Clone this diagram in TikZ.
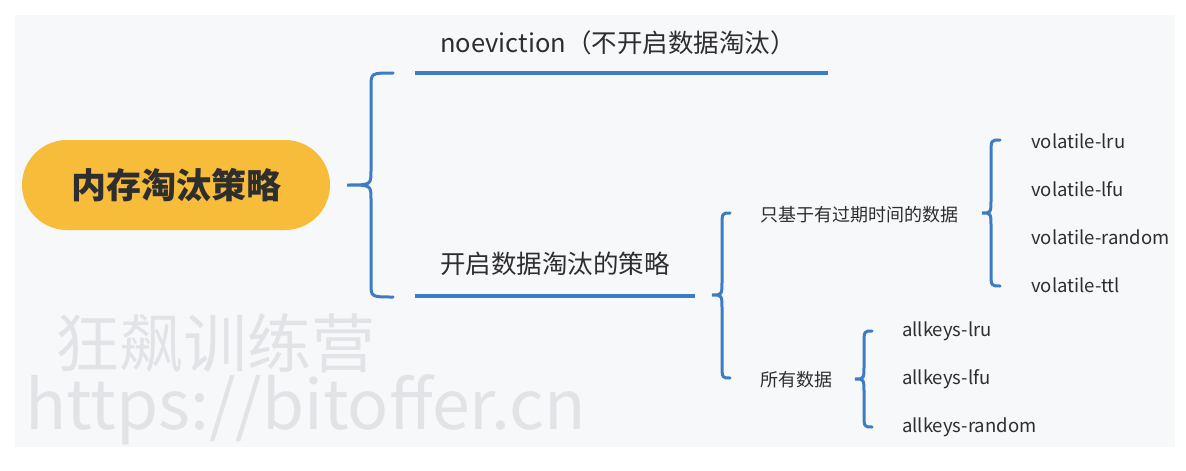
\documentclass[tikz,border=0pt]{standalone}
\usepackage{fontspec}
\setmainfont{Noto Sans CJK SC}
\definecolor{bluebr}{HTML}{3D7CC4}
\definecolor{pill}{HTML}{F7BD3A}
\definecolor{panel}{HTML}{F7F8FA}
\definecolor{wm}{HTML}{E2E3E7}
\definecolor{txt}{HTML}{2E2E2E}
\tikzset{
  brace/.style={draw=bluebr, line width=3pt, line cap=round},
  uline/.style={draw=bluebr, line width=4pt},
  lbl/.style={anchor=west, inner sep=0pt, text=txt},
  leaf/.style={lbl, font=\fontsize{18.5}{20}\selectfont},
  mid/.style={lbl, font=\fontsize{18}{20}\selectfont},
}
\newcommand{\mybrace}[6]{% xe, yt, yb, xv, xt, ym
  \draw[brace] (#1,#2) .. controls (#4,#2) .. (#4,#2+14) -- (#4,#6-14)
    .. controls (#4,#6) .. (#5,#6) .. controls (#4,#6) .. (#4,#6+14)
    -- (#4,#3-14) .. controls (#4,#3) .. (#1,#3);}
\begin{document}
\begin{tikzpicture}[x=1pt,y=-1pt]
\useasboundingbox (0,0) rectangle (1186,471);
\fill[white] (0,0) rectangle (1186,471);
\fill[panel] (15,15) rectangle (1175,447);
% watermark
\node[anchor=west, inner sep=0pt, text=wm, font=\fontsize{64}{66}\selectfont] (wm1) at (55,343) {狂飙训练营};
\node[anchor=west, inner sep=0pt, text=wm, font=\fontsize{68}{70}\selectfont] (wm2) at (25,410) {https://bitoffer.cn};
% root
\node[fill=pill, rounded corners=45pt, minimum width=308pt, minimum height=90pt, text=txt, font=\fontsize{35}{38}\selectfont\bfseries] (root) at (176,185) {内存淘汰策略};
% big brace
\mybrace{393}{73}{297}{371}{347}{185}
% first level
\node[lbl, font=\fontsize{25.5}{28}\selectfont] (noev) at (440,43) {noeviction（不开启数据淘汰）};
\coordinate (l1s) at (415,73);
\coordinate (l1e) at (828,73);
\draw[uline] (l1s) -- (l1e);
\node[lbl, font=\fontsize{25.5}{28}\selectfont] (open) at (440,264) {开启数据淘汰的策略};
\coordinate (l2s) at (415,296);
\coordinate (l2e) at (695,296);
\draw[uline] (l2s) -- (l2e);
% second brace
\mybrace{730}{213}{378}{722}{712}{295}
\node[mid] (exp) at (760,215) {只基于有过期时间的数据};
\node[mid] (all) at (760,380) {所有数据};
% third brace
\mybrace{1000}{140}{286}{991}{982}{213}
\node[leaf] (v1) at (1031,141) {volatile-lru};
\node[leaf] (v2) at (1031,189) {volatile-lfu};
\node[leaf] (v3) at (1031,237) {volatile-random};
\node[leaf] (v4) at (1031,285) {volatile-ttl};
% fourth brace
\mybrace{872}{331}{427}{864}{855}{379}
\node[leaf] (a1) at (902,331) {allkeys-lru};
\node[leaf] (a2) at (902,379) {allkeys-lfu};
\node[leaf] (a3) at (902,427) {allkeys-random};
\end{tikzpicture}
\end{document}
